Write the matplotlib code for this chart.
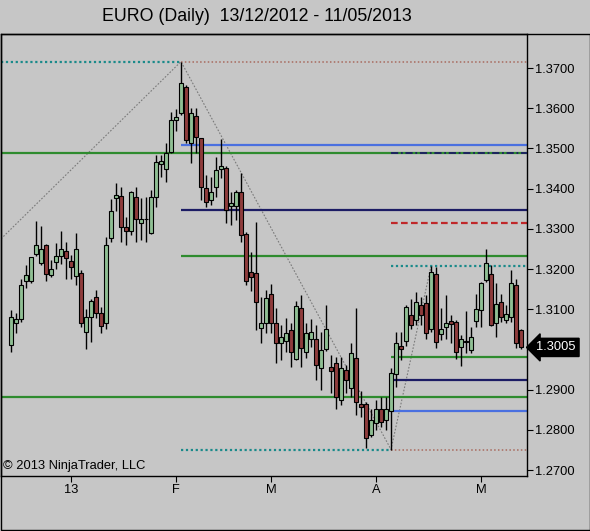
import numpy as np
import matplotlib
matplotlib.use('Agg')
import matplotlib.pyplot as plt
from matplotlib.patches import Rectangle
from matplotlib.transforms import blended_transform_factory

plt.rcParams['font.family'] = ['Liberation Sans', 'DejaVu Sans']

# Daily EUR/USD candles, 13/12/2012 - 10/05/2013
opens = [1.3012, 1.3066, 1.3075, 1.3171, 1.3171, 1.3237, 1.3216, 1.3259, 1.3186, 1.3217,
         1.3232, 1.3244, 1.3219, 1.3183, 1.3189, 1.3044, 1.3081, 1.3131, 1.3090, 1.3065,
         1.3276, 1.3376, 1.3382, 1.3304, 1.3295, 1.3378, 1.3315, 1.3324, 1.3290, 1.3380,
         1.3460, 1.3448, 1.3492, 1.3571, 1.3587, 1.3653, 1.3513, 1.3581, 1.3525, 1.3401,
         1.3372, 1.3403, 1.3450, 1.3452, 1.3357, 1.3357, 1.3392, 1.3287, 1.3193, 1.3189,
         1.3054, 1.3065, 1.3137, 1.3066, 1.3015, 1.3022, 1.3048, 1.2975, 1.3102, 1.2994,
         1.3025, 1.3027, 1.2953, 1.3000, 1.2955, 1.2965, 1.2874, 1.2949, 1.2903, 1.2978,
         1.2864, 1.2864, 1.2787, 1.2816, 1.2853, 1.2824, 1.2847, 1.2940, 1.3008, 1.3022,
         1.3085, 1.3073, 1.3110, 1.3115, 1.3050, 1.3187, 1.3038, 1.3056, 1.3071, 1.3067,
         1.3005, 1.3019, 1.2998, 1.3071, 1.3098, 1.3173, 1.3187, 1.3065, 1.3119, 1.3073,
         1.3080, 1.3160, 1.3048]
highs = [1.3098, 1.3090, 1.3174, 1.3209, 1.3231, 1.3320, 1.3307, 1.3261, 1.3222, 1.3265,
         1.3295, 1.3267, 1.3235, 1.3289, 1.3197, 1.3101, 1.3126, 1.3149, 1.3106, 1.3280,
         1.3373, 1.3413, 1.3405, 1.3330, 1.3395, 1.3405, 1.3376, 1.3380, 1.3396, 1.3484,
         1.3484, 1.3513, 1.3591, 1.3597, 1.3716, 1.3658, 1.3600, 1.3600, 1.3527, 1.3434,
         1.3430, 1.3479, 1.3523, 1.3456, 1.3392, 1.3396, 1.3438, 1.3293, 1.3243, 1.3318,
         1.3131, 1.3148, 1.3163, 1.3102, 1.3061, 1.3077, 1.3065, 1.3121, 1.3135, 1.3065,
         1.3075, 1.3061, 1.3044, 1.3110, 1.2986, 1.2980, 1.2981, 1.2961, 1.3017, 1.3102,
         1.2897, 1.2870, 1.2851, 1.2874, 1.2881, 1.2882, 1.2953, 1.3044, 1.3044, 1.3110,
         1.3125, 1.3143, 1.3131, 1.3135, 1.3207, 1.3205, 1.3102, 1.3135, 1.3085, 1.3073,
         1.3036, 1.3096, 1.3056, 1.3139, 1.3168, 1.3249, 1.3210, 1.3164, 1.3139, 1.3110,
         1.3197, 1.3174, 1.3052]
lows = [1.2994, 1.3040, 1.3069, 1.3154, 1.3164, 1.3232, 1.3210, 1.3169, 1.3181, 1.3199,
        1.3212, 1.3174, 1.3176, 1.3160, 1.3056, 1.3001, 1.3019, 1.3077, 1.3041, 1.3052,
        1.3268, 1.3345, 1.3268, 1.3260, 1.3285, 1.3268, 1.3272, 1.3268, 1.3288, 1.3355,
        1.3430, 1.3417, 1.3489, 1.3544, 1.3583, 1.3513, 1.3463, 1.3488, 1.3372, 1.3355,
        1.3359, 1.3380, 1.3426, 1.3315, 1.3309, 1.3322, 1.3268, 1.3160, 1.3146, 1.3048,
        1.3015, 1.3040, 1.3040, 1.2965, 1.2974, 1.2994, 1.2957, 1.2973, 1.2955, 1.2978,
        1.3007, 1.2924, 1.2899, 1.2996, 1.2891, 1.2851, 1.2862, 1.2891, 1.2882, 1.2837,
        1.2832, 1.2755, 1.2783, 1.2799, 1.2808, 1.2799, 1.2751, 1.2906, 1.2974, 1.3008,
        1.3052, 1.3061, 1.3061, 1.3027, 1.3044, 1.3003, 1.3023, 1.3027, 1.3015, 1.2975,
        1.2959, 1.2990, 1.2990, 1.3056, 1.3055, 1.3168, 1.3058, 1.3031, 1.3069, 1.3065,
        1.3069, 1.3003, 1.3000]
closes = [1.3080, 1.3075, 1.3159, 1.3184, 1.3229, 1.3259, 1.3251, 1.3187, 1.3199, 1.3232,
          1.3249, 1.3227, 1.3206, 1.3251, 1.3066, 1.3081, 1.3121, 1.3090, 1.3058, 1.3259,
          1.3345, 1.3384, 1.3304, 1.3295, 1.3391, 1.3324, 1.3324, 1.3325, 1.3378, 1.3467,
          1.3469, 1.3488, 1.3571, 1.3577, 1.3663, 1.3521, 1.3587, 1.3528, 1.3405, 1.3367,
          1.3392, 1.3446, 1.3456, 1.3347, 1.3365, 1.3392, 1.3285, 1.3171, 1.3179, 1.3119,
          1.3065, 1.3127, 1.3065, 1.3017, 1.3030, 1.3041, 1.2994, 1.3108, 1.3003, 1.3040,
          1.3044, 1.2961, 1.2998, 1.3052, 1.2947, 1.2882, 1.2953, 1.2924, 1.2990, 1.2870,
          1.2857, 1.2779, 1.2824, 1.2853, 1.2820, 1.2853, 1.2942, 1.3017, 1.3002, 1.3105,
          1.3061, 1.3119, 1.3085, 1.3041, 1.3193, 1.3019, 1.3052, 1.3065, 1.3062, 1.2994,
          1.3025, 1.3020, 1.3031, 1.3100, 1.3164, 1.3216, 1.3061, 1.3113, 1.3081, 1.3088,
          1.3164, 1.3017, 1.3005]

# swing points of the zigzag and the drawn levels
zigzag_idx = [-2, 34, 76, 84]
zigzag_price = [1.3275, 1.3716, 1.2751, 1.3207]
full_levels = [1.3489, 1.2882]
peak_levels = [1.3508, 1.3347, 1.3232]
low_levels = [1.3489, 1.3315, 1.3207, 1.2980, 1.2924, 1.2847]

month_idx = [12, 33, 52, 73, 94]
month_labels = ['13', 'F', 'M', 'A', 'M']
yticks = [1.27, 1.28, 1.29, 1.30, 1.31, 1.32, 1.33, 1.34, 1.35, 1.36, 1.37]

bg = '#c6c6c6'
up_col = '#8fbf94'
down_col = '#8f3c3c'

opens, highs, lows, closes = map(np.array, (opens, highs, lows, closes))
x = np.arange(len(opens))
peak = int(np.argmax(highs))
low = int(np.argmin(lows))
xmax = 103.2

fig = plt.figure(figsize=(5.9, 5.31), dpi=100, facecolor=bg)
ax = fig.add_axes([1 / 590, 55 / 531, 526 / 590, 442 / 531])
ax.set_facecolor(bg)

# zigzag
ax.plot(zigzag_idx, zigzag_price, color='#7a7a7a', lw=0.8, ls=(0, (1.5, 1.5)), zorder=1)

# levels
lw = 1.6
ax.hlines(full_levels, -2, xmax, color='#2e8b2e', lw=lw, zorder=2)
ax.hlines(highs[peak], -2, peak, color='#1a8a8a', lw=lw, ls=(0, (1, 1.2)), zorder=2)
ax.hlines(highs[peak], peak, xmax, color='#a86a5e', lw=1.1, ls=(0, (1, 1.5)), zorder=2)
ax.hlines(peak_levels[0], peak, xmax, color='#4a70e0', lw=lw, zorder=2)
ax.hlines(peak_levels[1], peak, xmax, color='#1c1c64', lw=lw, zorder=2)
ax.hlines(peak_levels[2], peak, xmax, color='#2e8b2e', lw=lw, zorder=2)
ax.hlines(lows[low], peak, low, color='#1a8a8a', lw=lw, ls=(0, (1, 1.2)), zorder=2)
ax.hlines(lows[low], low, xmax, color='#a86a5e', lw=1.1, ls=(0, (1, 1.5)), zorder=2)
ax.hlines(low_levels[0], low, xmax, color='#1c1c64', lw=1.3, ls=(0, (4, 1.5, 1, 1.5)), zorder=3)
ax.hlines(low_levels[1], low, xmax, color='#c0282a', lw=lw, ls=(0, (3, 1.5)), zorder=2)
ax.hlines(low_levels[2], low, xmax, color='#1a8a8a', lw=lw, ls=(0, (1, 1.2)), zorder=2)
ax.hlines(low_levels[3], low, xmax, color='#2e8b2e', lw=lw, zorder=2)
ax.hlines(low_levels[4], low, xmax, color='#1c1c64', lw=lw, zorder=2)
ax.hlines(low_levels[5], low, xmax, color='#4a70e0', lw=lw, zorder=2)

# candles
ax.vlines(x, lows, highs, color='black', lw=1.0, zorder=4)
colors = np.where(closes >= opens, up_col, down_col)
ax.bar(x, np.abs(closes - opens), bottom=np.minimum(opens, closes), width=0.62,
       color=colors, edgecolor='black', linewidth=0.8, zorder=5)

ax.set_xlim(-2, xmax)
ax.set_ylim(1.26851, 1.37846)

# the last-price marker hides the label next to it
last = closes[-1]
ax.yaxis.tick_right()
ax.set_yticks(yticks)
ax.set_yticklabels(['' if abs(v - last) < 0.003 else '%.4f' % v for v in yticks])
ax.set_xticks(month_idx)
ax.set_xticklabels(month_labels)
ax.tick_params(axis='both', direction='out', length=4, width=0.8, labelsize=9.3,
               colors='black', pad=1.5)
ax.tick_params(axis='x', length=4.5, pad=1.5)
for s in ax.spines.values():
    s.set_linewidth(1.0)
    s.set_color('black')

# last price marker
trans = blended_transform_factory(ax.transAxes, ax.transData)
ax.text(1.018, last, '%.4f' % last, transform=trans, ha='left', va='center',
        color='white', fontsize=9.3,
        bbox=dict(boxstyle='larrow,pad=0.24', fc='black', ec='black'), zorder=10,
        clip_on=False)

ax.text(0.004, 0.008, '\u00a9 2013 NinjaTrader, LLC', transform=ax.transAxes, ha='left',
        va='bottom', fontsize=9.3, color='black')

fig.text(0.435, 0.968, 'EURO (Daily)  13/12/2012 - 11/05/2013', ha='center', va='center',
         fontsize=12.8, color='black')

# outer frame
fig.add_artist(Rectangle((0.5 / 590, 1.5 / 531), 589 / 590, 495.5 / 531,
                         transform=fig.transFigure, fill=False, ec='black', lw=1.0))

fig.savefig('out.png', dpi=100, facecolor=bg)
